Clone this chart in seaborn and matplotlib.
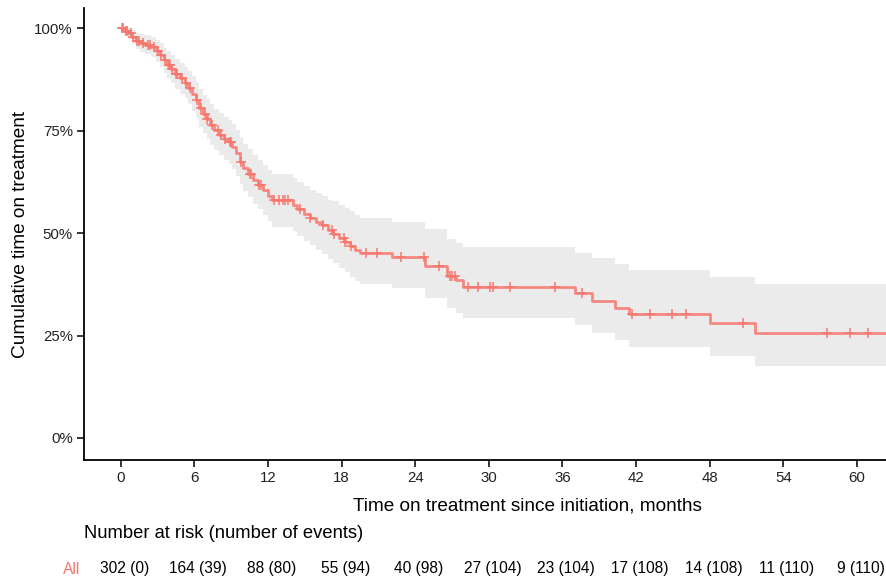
import numpy as np
import pandas as pd
import matplotlib
matplotlib.use("Agg")
import matplotlib.pyplot as plt
import seaborn as sns

# ---------------- data ----------------
step_times = [0, 0.3, 0.6, 0.9, 1.2, 1.6, 2.0, 2.5, 2.9, 3.2, 3.5, 3.8, 4.1, 4.4, 4.8,
              5.2, 5.5, 5.8, 6.1, 6.4, 6.7, 7.0, 7.3, 7.6, 8.0, 8.4, 8.8, 9.1, 9.4,
              9.7, 10.0, 10.4, 10.8, 11.2, 11.6, 12.0, 12.3, 14.0, 14.4, 14.9, 15.4,
              15.9, 16.4, 16.9, 17.3, 17.8, 18.3, 18.7, 19.1, 19.5, 22.1, 24.8, 26.6,
              27.3, 27.9, 37.0, 38.4, 40.3, 41.4, 48.0, 51.7]
surv = [1.000, 0.995, 0.990, 0.980, 0.970, 0.965, 0.960, 0.955, 0.945, 0.935, 0.922,
        0.912, 0.900, 0.888, 0.878, 0.868, 0.855, 0.840, 0.825, 0.805, 0.790, 0.778,
        0.765, 0.752, 0.740, 0.730, 0.722, 0.710, 0.695, 0.675, 0.660, 0.645, 0.630,
        0.618, 0.605, 0.592, 0.580, 0.570, 0.560, 0.548, 0.538, 0.528, 0.520, 0.508,
        0.498, 0.488, 0.478, 0.468, 0.458, 0.452, 0.443, 0.420, 0.396, 0.386, 0.369,
        0.354, 0.335, 0.318, 0.303, 0.281, 0.257]
lower = [1.000, 0.985, 0.975, 0.962, 0.950, 0.943, 0.937, 0.930, 0.918, 0.906, 0.892,
         0.880, 0.866, 0.853, 0.841, 0.830, 0.815, 0.798, 0.782, 0.760, 0.744, 0.730,
         0.716, 0.702, 0.690, 0.679, 0.670, 0.657, 0.640, 0.620, 0.604, 0.588, 0.572,
         0.558, 0.544, 0.530, 0.516, 0.505, 0.494, 0.481, 0.470, 0.459, 0.450, 0.437,
         0.426, 0.415, 0.404, 0.393, 0.382, 0.376, 0.367, 0.342, 0.318, 0.305, 0.293,
         0.276, 0.257, 0.238, 0.222, 0.200, 0.176]
upper = [1.000, 1.000, 1.000, 0.996, 0.990, 0.986, 0.983, 0.979, 0.972, 0.964, 0.953,
         0.945, 0.935, 0.925, 0.916, 0.907, 0.896, 0.883, 0.870, 0.852, 0.838, 0.827,
         0.815, 0.803, 0.793, 0.784, 0.777, 0.766, 0.752, 0.733, 0.719, 0.705, 0.690,
         0.679, 0.667, 0.655, 0.645, 0.636, 0.626, 0.615, 0.606, 0.597, 0.590, 0.582,
         0.578, 0.570, 0.561, 0.553, 0.545, 0.538, 0.528, 0.509, 0.487, 0.477, 0.467,
         0.452, 0.440, 0.425, 0.410, 0.394, 0.377]
t_end = 62.5

censor_times = [0.1, 0.2, 0.4, 0.5, 0.8, 1.0, 1.3, 1.5, 1.8, 2.2, 2.4, 2.7, 3.0, 3.3,
                3.6, 3.9, 4.0, 4.2, 4.5, 4.6, 5.0, 5.3, 5.6, 6.2, 6.5, 6.9, 7.0, 7.4,
                7.9, 8.2, 8.5, 8.9, 9.0, 9.8, 10.5, 10.6, 11.3, 11.4, 12.5, 12.9,
                13.2, 13.4, 13.6, 14.6, 15.4, 16.5, 17.2, 17.4, 18.2, 18.3, 18.8,
                20.0, 20.9, 22.8, 24.7, 25.9, 26.8, 27.0, 27.2, 28.3, 29.1, 30.1,
                30.3, 31.7, 35.4, 37.6, 41.7, 43.1, 44.9, 46.1, 50.7, 57.6, 59.4, 60.9]

risk_times = [0, 6, 12, 18, 24, 30, 36, 42, 48, 54, 60]
n_risk = [302, 164, 88, 55, 40, 27, 23, 17, 14, 11, 9]
n_events = [0, 39, 80, 94, 98, 104, 104, 108, 108, 110, 110]
group_label = "All"

# ---------------- plotting ----------------
sns.set_theme(style="white")
plt.rcParams["font.family"] = ["Liberation Sans", "DejaVu Sans"]

red = "#F8766D"
band = "#EBEBEB"

fig = plt.figure(figsize=(8.87, 5.77), dpi=100)
ax = fig.add_axes([84 / 887, 1 - 460 / 577, 1 - 84 / 887, (460 - 8) / 577])

t_ext = np.array(step_times + [t_end])
s_ext = np.array(surv + [surv[-1]])
lo_ext = np.array(lower + [lower[-1]])
hi_ext = np.array(upper + [upper[-1]])

ax.fill_between(t_ext, lo_ext, hi_ext, step="post", color=band, lw=0, zorder=1)

df = pd.DataFrame({"time": t_ext, "surv": s_ext})
sns.lineplot(data=df, x="time", y="surv", drawstyle="steps-post", estimator=None,
             color=red, lw=2.0, alpha=0.85, ax=ax, zorder=3)

idx = np.searchsorted(np.array(step_times), np.array(censor_times), side="right") - 1
cdf = pd.DataFrame({"time": censor_times, "surv": np.array(surv)[idx]})
sns.scatterplot(data=cdf, x="time", y="surv", marker="+", s=50, color=red,
                linewidth=1.2, alpha=0.9, ax=ax, zorder=4)

ax.set_xlim(-3.0, 62.45)
ax.set_ylim(-0.054, 1.050)
ax.set_xticks(risk_times)
ax.set_xticklabels([str(t) for t in risk_times])
ax.set_yticks([0, 0.25, 0.5, 0.75, 1.0])
ax.set_yticklabels(["0%", "25%", "50%", "75%", "100%"])

for s in ["top", "right"]:
    ax.spines[s].set_visible(False)
for s in ["left", "bottom"]:
    ax.spines[s].set_color("black")
    ax.spines[s].set_linewidth(1.3)
ax.tick_params(axis="both", which="major", direction="out", length=5, width=1.1,
               color="black", labelsize=10.8, labelcolor="#222222", pad=3,
               bottom=True, left=True)
ax.grid(False)

ax.set_xlabel("Time on treatment since initiation, months", fontsize=13.7, color="black")
ax.xaxis.set_label_coords((527 - 84) / (887 - 84), -0.082)
ax.set_ylabel("Cumulative time on treatment", fontsize=13.7, color="black")
ax.yaxis.set_label_coords(-0.069, 0.5)

# risk table
fig.text(84 / 887, 1 - 534 / 577, "Number at risk (number of events)", fontsize=13.2,
         ha="left", va="center", color="black")
ytab = 1 - 569 / 577
for t, n, e in zip(risk_times, n_risk, n_events):
    xf = ax.transData.transform((t + 0.3, 0))[0] / fig.bbox.width
    fig.text(xf, ytab, f"{n} ({e})", fontsize=11.2, ha="center", va="center", color="black")
fig.text(80 / 887, ytab, group_label, fontsize=11.2, ha="right", va="center", color=red)

fig.savefig("out.png", dpi=100)
